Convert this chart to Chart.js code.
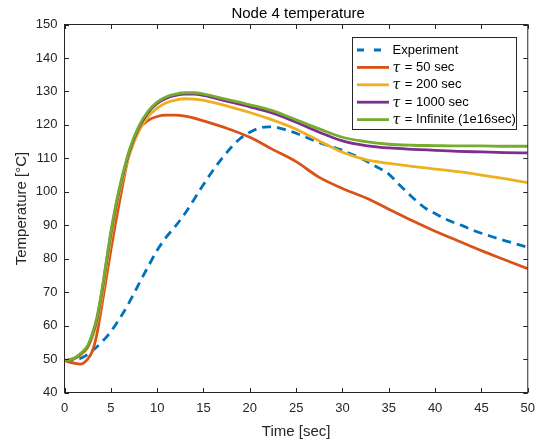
<!DOCTYPE html>
<html lang="en">
<head>
    <meta charset="UTF-8">
    <title>Node 4 temperature</title>
    <style>
        html, body { margin: 0; padding: 0; background: #fff; }
        #wrap { width: 543px; height: 441px; }
    </style>
</head>
<body>
    <div id="wrap"><canvas id="chart" width="543" height="441"></canvas></div>

    <script src="https://cdn.jsdelivr.net/npm/chart.js"></script>
    <script>
        const expTime = [0,1,2,3,4,5,6,7,8,9,10,11,12,13,14,15,16,17,18,19,20,21,22,23,24,25,26,27,28,29,30,31,32,33,34,35,36,37,38,39,40,41,42,43,44,45,46,47,48,49,50];
        const experiment = [49.5,49.7,50.5,52.5,55,58.2,62.3,67,72.3,77.5,82.5,86.5,89.8,93.5,97.8,102.2,106.3,110,113.3,116,117.8,119,119.4,119.2,118.4,117.5,116.4,115.2,114.2,113.3,112.4,111.2,110,108.5,107,105.3,102.5,99.8,97.2,95,93.5,92,90.8,89.8,88.6,87.6,86.7,85.8,85,84.2,83.4];

        // model results
        const modelTime = [0,1,1.7,2.5,3,3.5,4,4.5,5,5.5,6,7,8,9,10,11,12,13,14,15,17.5,20,22.5,25,27.5,30,32.5,35,37.5,40,42.5,45,47.5,50];
        const tau50 = [49.5,48.8,48.5,50,52.3,57.5,65.5,74,82.5,90.5,98,111.5,118.5,121.3,122.5,122.9,122.9,122.6,122,121.2,119,116.3,112.6,109,104.3,101,98.2,94.8,91.4,88.2,85.3,82.4,79.7,77];
        const tau200 = [49.5,50,51.2,53.3,56.5,61,68,77,86,94,100.5,111,118,122.3,125,126.6,127.4,127.8,127.7,127.3,125.7,123.7,121.4,118.7,115.2,111.8,109.6,108.5,107.6,106.8,106,105,103.9,102.7];
        const tau1000 = [49.5,50.1,51.4,53.8,57.2,62,69.5,78.5,87.5,95,101.5,112,119,123.6,126.4,128,128.8,129.2,129.2,128.8,127.1,125.4,123.5,120.8,117.8,115.2,113.8,113.1,112.7,112.4,112.1,111.9,111.7,111.6];
        const tauInf = [49.5,50.2,51.6,54,57.5,62.5,70,79,88,95.5,102,112.5,119.5,124,126.8,128.4,129.2,129.6,129.6,129.2,127.6,126,124.2,121.5,118.8,116.3,115,114.2,113.9,113.8,113.7,113.7,113.6,113.6];

        const xTicks = [0,5,10,15,20,25,30,35,40,45,50];
        const yTicks = [40,50,60,70,80,90,100,110,120,130,140,150];

        const FONT = "'Liberation Sans', Arial, Helvetica, sans-serif";
        const AXIS = '#262626';

        const toXY = (xs, ys) => xs.map((x, i) => ({ x: x, y: ys[i] }));

        // box, inward ticks, title and legend the matlab way
        const matlabAxes = {
            id: 'matlabAxes',
            afterDraw(chart) {
                const c = chart.ctx;
                const a = chart.chartArea;
                const sx = chart.scales.x, sy = chart.scales.y;
                c.save();
                c.strokeStyle = AXIS;
                c.lineWidth = 1;
                c.strokeRect(a.left, a.top, a.right - a.left, a.bottom - a.top);
                const tl = 4.5;
                c.beginPath();
                xTicks.forEach(v => {
                    const px = Math.round(sx.getPixelForValue(v)) + 0.5;
                    c.moveTo(px, a.bottom); c.lineTo(px, a.bottom - tl);
                    c.moveTo(px, a.top); c.lineTo(px, a.top + tl);
                });
                yTicks.forEach(v => {
                    const py = Math.round(sy.getPixelForValue(v)) + 0.5;
                    c.moveTo(a.left, py); c.lineTo(a.left + tl, py);
                    c.moveTo(a.right, py); c.lineTo(a.right - tl, py);
                });
                c.stroke();

                // title
                c.fillStyle = '#000';
                c.font = '15px ' + FONT;
                c.textAlign = 'center';
                c.textBaseline = 'alphabetic';
                c.fillText('Node 4 temperature', (a.left + a.right) / 2 + 2, 17.5);

                // legend
                const lx = 352.5, ly = 37.5, lw = 164, lh = 92;
                c.fillStyle = '#fff';
                c.fillRect(lx, ly, lw, lh);
                c.strokeStyle = AXIS;
                c.strokeRect(lx, ly, lw, lh);
                c.textAlign = 'left';
                c.textBaseline = 'middle';
                chart.data.datasets.forEach((ds, i) => {
                    const yy = 50 + i * 17.4;
                    c.strokeStyle = ds.borderColor;
                    c.lineWidth = ds.borderWidth;
                    c.setLineDash(ds.borderDash ? [7, 10] : []);
                    c.beginPath();
                    c.moveTo(357, yy); c.lineTo(389, yy);
                    c.stroke();
                    c.setLineDash([]);
                    c.fillStyle = '#000';
                    let tx = 392.5;
                    let txt = ds.label;
                    if (txt.startsWith('τ')) {
                        c.font = 'italic 14px ' + "'DejaVu Serif', serif";
                        c.fillText('τ', tx, yy + 1);
                        tx += c.measureText('τ').width + 1;
                        txt = txt.slice(1);
                    }
                    c.font = '13px ' + FONT;
                    c.fillText(txt, tx, yy);
                });
                c.restore();
            }
        };

        const ctx = document.getElementById('chart').getContext('2d');
        new Chart(ctx, {
            type: 'line',
            data: {
                datasets: [
                    { label: 'Experiment', data: toXY(expTime, experiment), borderColor: '#0072BD', borderWidth: 2.8, borderDash: [9, 6], order: 4 },
                    { label: 'τ = 50 sec', data: toXY(modelTime, tau50), borderColor: '#D95319', borderWidth: 2.8, order: 3 },
                    { label: 'τ = 200 sec', data: toXY(modelTime, tau200), borderColor: '#EDB120', borderWidth: 2.8, order: 2 },
                    { label: 'τ = 1000 sec', data: toXY(modelTime, tau1000), borderColor: '#7E2F8E', borderWidth: 2.8, order: 1 },
                    { label: 'τ = Infinite (1e16sec)', data: toXY(modelTime, tauInf), borderColor: '#77AC30', borderWidth: 2.8, order: 0 }
                ]
            },
            options: {
                responsive: false,
                animation: false,
                layout: { padding: { left: 0, top: 24.5, right: 12.5, bottom: 0 } },
                elements: {
                    point: { radius: 0 },
                    line: { cubicInterpolationMode: 'monotone', fill: false, borderCapStyle: 'butt' }
                },
                plugins: {
                    legend: { display: false },
                    tooltip: { enabled: false }
                },
                scales: {
                    x: {
                        type: 'linear',
                        min: 0, max: 50,
                        afterBuildTicks: s => { s.ticks = xTicks.map(v => ({ value: v })); },
                        afterFit: s => { s.height = 48.5; },
                        grid: { display: false, drawTicks: false },
                        border: { display: false },
                        ticks: { color: AXIS, font: { family: FONT, size: 13 }, padding: 8, maxRotation: 0 },
                        title: { display: true, text: 'Time [sec]', color: AXIS, font: { family: FONT, size: 15 }, padding: 0 }
                    },
                    y: {
                        type: 'linear',
                        min: 40, max: 150,
                        afterBuildTicks: s => { s.ticks = yTicks.map(v => ({ value: v })); },
                        afterFit: s => { s.width = 64.5; },
                        grid: { display: false, drawTicks: false },
                        border: { display: false },
                        ticks: { color: AXIS, font: { family: FONT, size: 13 }, padding: 7 },
                        title: { display: true, text: 'Temperature [°C]', color: AXIS, font: { family: FONT, size: 15 }, padding: { top: 13, bottom: 0 } }
                    }
                }
            },
            plugins: [matlabAxes]
        });
    </script>
</body>
</html>
